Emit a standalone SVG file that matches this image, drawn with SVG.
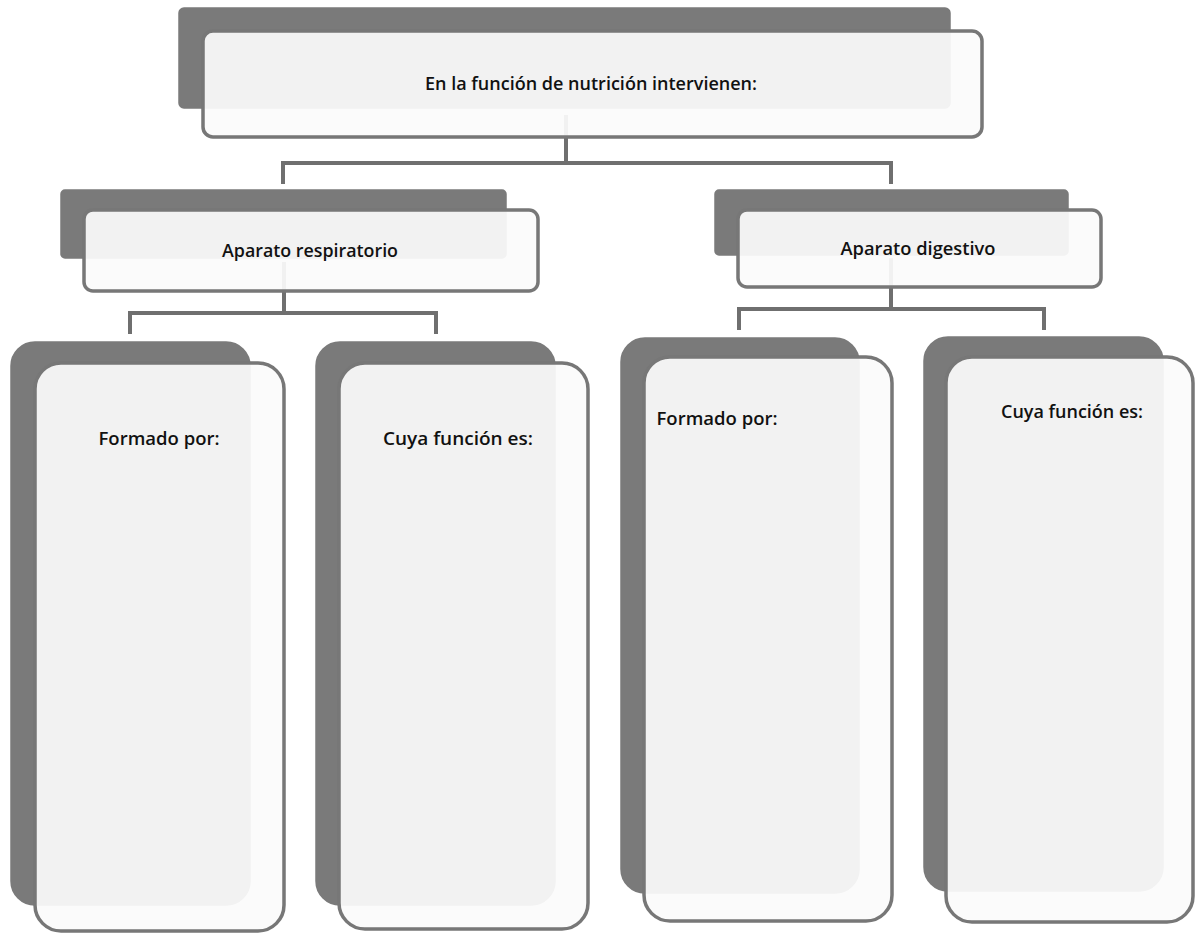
<svg xmlns="http://www.w3.org/2000/svg" width="1195" height="933" viewBox="0 0 1195 933">
<style>
.back{fill:#7a7a7a;stroke:#ffffff;stroke-width:2.5}
.front{fill:#fbfbfb;fill-opacity:0.93;stroke:#777777;stroke-width:3.5}
.conn{fill:none;stroke:#6f6f6f;stroke-width:4;stroke-linejoin:miter}
.lbl{font-family:"Open Sans","Liberation Sans",Arial,sans-serif;font-size:18px;font-weight:600;fill:#111111;text-anchor:middle}
</style>
<rect width="1195" height="933" fill="#ffffff"/>
<g id="connectors">
<path class="conn" d="M566 115 V163 M283 184 V163 H891 V184"/>
<path class="conn" d="M284 262 V313 M130 334 V313 H436 V334"/>
<path class="conn" d="M891 258 V309 M739 330 V309 H1044 V330"/>
</g>
<g id="n-top">
<rect class="back" x="177" y="6" width="775" height="104" rx="7"/>
<rect class="front" x="203" y="31" width="779" height="106" rx="10"/>
<text class="lbl" x="591" y="90" textLength="332" lengthAdjust="spacingAndGlyphs">En la función de nutrición intervienen:</text>
</g>
<g id="n-resp">
<rect class="back" x="59" y="188" width="449" height="72" rx="6"/>
<rect class="front" x="84" y="210" width="454" height="81" rx="9"/>
<text class="lbl" x="310" y="257" textLength="176" lengthAdjust="spacingAndGlyphs">Aparato respiratorio</text>
</g>
<g id="n-dig">
<rect class="back" x="713" y="188" width="357" height="69" rx="6"/>
<rect class="front" x="738" y="210" width="363" height="77" rx="9"/>
<text class="lbl" x="918" y="255" textLength="155" lengthAdjust="spacingAndGlyphs">Aparato digestivo</text>
</g>
<g id="n-resp-formado">
<rect class="back" x="9" y="340" width="243" height="567" rx="26"/>
<rect class="front" x="35" y="363" width="249" height="568" rx="26"/>
<text class="lbl" x="159" y="445" textLength="121" lengthAdjust="spacingAndGlyphs">Formado por:</text>
</g>
<g id="n-resp-funcion">
<rect class="back" x="314" y="340" width="243" height="567" rx="26"/>
<rect class="front" x="339" y="363" width="249" height="566" rx="26"/>
<text class="lbl" x="458" y="445" textLength="150" lengthAdjust="spacingAndGlyphs">Cuya función es:</text>
</g>
<g id="n-dig-formado">
<rect class="back" x="619" y="336" width="242" height="559" rx="26"/>
<rect class="front" x="644" y="357" width="248" height="564" rx="26"/>
<text class="lbl" x="717" y="425" textLength="121" lengthAdjust="spacingAndGlyphs">Formado por:</text>
</g>
<g id="n-dig-funcion">
<rect class="back" x="922" y="335" width="243" height="558" rx="26"/>
<rect class="front" x="946" y="357" width="247" height="565" rx="26"/>
<text class="lbl" x="1072" y="418" textLength="142" lengthAdjust="spacingAndGlyphs">Cuya función es:</text>
</g>
</svg>
